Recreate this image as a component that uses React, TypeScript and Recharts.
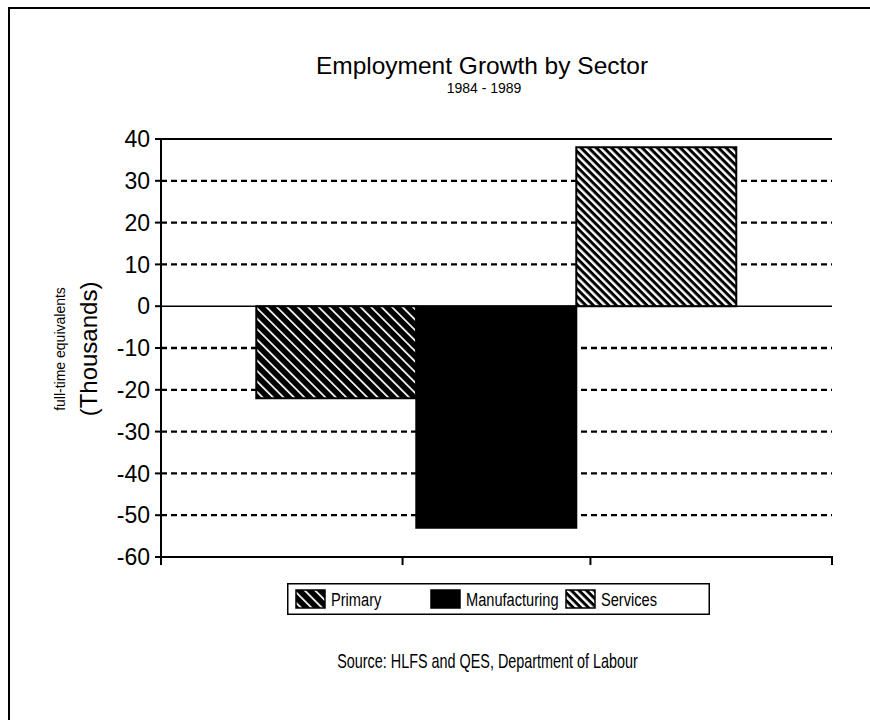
import React from 'react';
import { BarChart, Bar, XAxis, YAxis, CartesianGrid, ReferenceLine, Legend } from 'recharts';

// Employment change by sector, 1984 - 1989 (thousands of full-time equivalents)
const PERIOD = '1984 - 1989';
const SECTORS = ['Primary', 'Manufacturing', 'Services'];
const CHANGE_THOUSANDS = [-22, -53, 38];

// Value axis ticks and the dashed guide lines between the solid frame lines
const Y_TICKS = [-60, -50, -40, -30, -20, -10, 0, 10, 20, 30, 40];
const GRID_LINES = [-50, -40, -30, -20, -10, 10, 20, 30];

// Tick marks along the category axis, as fractions of its length
const CATEGORY_MARKS = [0, 0.36, 0.64, 1];

const FONT = '"Liberation Sans", Arial, Helvetica, sans-serif';

const data = [
  Object.fromEntries([
    ['period', PERIOD],
    ...SECTORS.map((s, i) => [s, CHANGE_THOUSANDS[i]]),
  ]),
];

const fillFor = (sector: string, prefix: string) => {
  if (sector === 'Primary') return `url(#${prefix}-primary)`;
  if (sector === 'Services') return `url(#${prefix}-services)`;
  return '#000';
};

const hatchDefs = (prefix: string) => (
  <defs>
    {/* dense black hatch with thin white diagonals */}
    <pattern
      id={`${prefix}-primary`}
      patternUnits="userSpaceOnUse"
      width={7.4}
      height={7.4}
      patternTransform="rotate(-45)"
    >
      <rect x={0} y={0} width={7.4} height={7.4} fill="#000" />
      <rect x={0} y={0} width={1.7} height={7.4} fill="#fff" />
    </pattern>
    {/* finer, more open diagonal hatch */}
    <pattern
      id={`${prefix}-services`}
      patternUnits="userSpaceOnUse"
      width={5.4}
      height={5.4}
      patternTransform="rotate(-45)"
    >
      <rect x={0} y={0} width={5.4} height={5.4} fill="#000" />
      <rect x={0} y={0} width={2.4} height={5.4} fill="#fff" />
    </pattern>
  </defs>
);

// The single category tick sits at the middle of the axis; the marks are
// spread over the full axis length from there.
function CategoryMarks(props: any) {
  const { x, y, width } = props;
  const left = x - width / 2;
  return (
    <g>
      {CATEGORY_MARKS.map((f) => (
        <line
          key={f}
          x1={left + f * width}
          x2={left + f * width}
          y1={y - 1}
          y2={y + 8}
          stroke="#000"
          strokeWidth={2}
        />
      ))}
    </g>
  );
}

function SectorLegend(props: any) {
  const items = [...(props.payload ?? [])].sort(
    (a: any, b: any) => SECTORS.indexOf(String(a.value)) - SECTORS.indexOf(String(b.value))
  );
  return (
    <svg width={423} height={32} style={{ display: 'block' }}>
      {hatchDefs('lg')}
      <rect x={0.75} y={0.75} width={421.5} height={30.5} fill="#fff" stroke="#000" strokeWidth={1.5} />
      {items.map((entry: any, i: number) => (
        <g key={String(entry.value)} transform={`translate(${9 + i * 135},0)`}>
          <rect
            x={0}
            y={7}
            width={29}
            height={18}
            fill={fillFor(String(entry.value), 'lg')}
            stroke="#000"
            strokeWidth={1.5}
          />
          <text
            transform="translate(35 23) scale(0.77 1)"
            fontFamily={FONT}
            fontSize={19}
            fill="#000"
          >
            {entry.value}
          </text>
        </g>
      ))}
    </svg>
  );
}

export default function App() {
  return (
    <div
      style={{
        position: 'absolute',
        left: 0,
        top: 0,
        width: 870,
        height: 720,
        background: '#fff',
        fontFamily: FONT,
      }}
    >
      <BarChart
        width={870}
        height={720}
        data={data}
        margin={{ top: 139, right: 38, left: 60, bottom: 151 }}
        barGap={0}
        barCategoryGap="14.2%"
      >
        {hatchDefs('bar')}
        <CartesianGrid
          xAxisId="cat"
          vertical={false}
          horizontalValues={GRID_LINES}
          stroke="#000"
          strokeWidth={2.3}
          strokeDasharray="6 4"
        />
        <XAxis
          xAxisId="cat"
          dataKey="period"
          height={12}
          axisLine={{ stroke: '#000', strokeWidth: 2 }}
          tickLine={false}
          tickSize={0}
          tickMargin={0}
          tick={CategoryMarks}
          interval={0}
        />
        <YAxis
          domain={[-60, 40]}
          ticks={Y_TICKS}
          interval={0}
          width={101}
          axisLine={{ stroke: '#000', strokeWidth: 2 }}
          tickLine={{ stroke: '#000', strokeWidth: 2 }}
          tickSize={6}
          tickMargin={5}
          tick={{ fill: '#000', fontSize: 23, fontFamily: FONT }}
          allowDataOverflow
        />
        {/* right-hand frame of the plot */}
        <YAxis
          yAxisId="frame"
          orientation="right"
          domain={[-60, 40]}
          width={0}
          axisLine={{ stroke: '#000', strokeWidth: 2 }}
          tick={false}
          tickLine={false}
        />
        {SECTORS.map((s) => (
          <Bar
            key={s}
            xAxisId="cat"
            dataKey={s}
            name={s}
            fill={fillFor(s, 'bar')}
            stroke="#000"
            strokeWidth={2}
            isAnimationActive={false}
          />
        ))}
        <ReferenceLine y={0} xAxisId="cat" stroke="#000" strokeWidth={1.5} />
        <ReferenceLine y={40} xAxisId="cat" stroke="#000" strokeWidth={2} />
        <Legend
          layout="horizontal"
          verticalAlign="middle"
          align="center"
          wrapperStyle={{ left: 287, top: 583, width: 423, height: 32 }}
          content={(p: any) => <SectorLegend {...p} />}
        />
      </BarChart>

      <svg
        width={870}
        height={720}
        style={{ position: 'absolute', left: 0, top: 0, pointerEvents: 'none' }}
      >
        {/* page frame */}
        <line x1={9} y1={8} x2={870} y2={8} stroke="#000" strokeWidth={2} />
        <line x1={9} y1={7} x2={9} y2={720} stroke="#000" strokeWidth={2} />

        <text x={482} y={74} textAnchor="middle" fontFamily={FONT} fontSize={24.5} fill="#000">
          Employment Growth by Sector
        </text>
        <text x={484} y={92.5} textAnchor="middle" fontFamily={FONT} fontSize={14} fill="#000">
          {PERIOD}
        </text>

        <text
          transform="translate(65 349) rotate(-90)"
          textAnchor="middle"
          fontFamily={FONT}
          fontSize={14}
          fill="#000"
        >
          full-time equivalents
        </text>
        <text
          transform="translate(97 349) rotate(-90)"
          textAnchor="middle"
          fontFamily={FONT}
          fontSize={24}
          fill="#000"
        >
          (Thousands)
        </text>

        <text
          transform="translate(487.5 668) scale(0.72 1)"
          textAnchor="middle"
          fontFamily={FONT}
          fontSize={20}
          fill="#000"
        >
          Source: HLFS and QES, Department of Labour
        </text>
      </svg>
    </div>
  );
}
